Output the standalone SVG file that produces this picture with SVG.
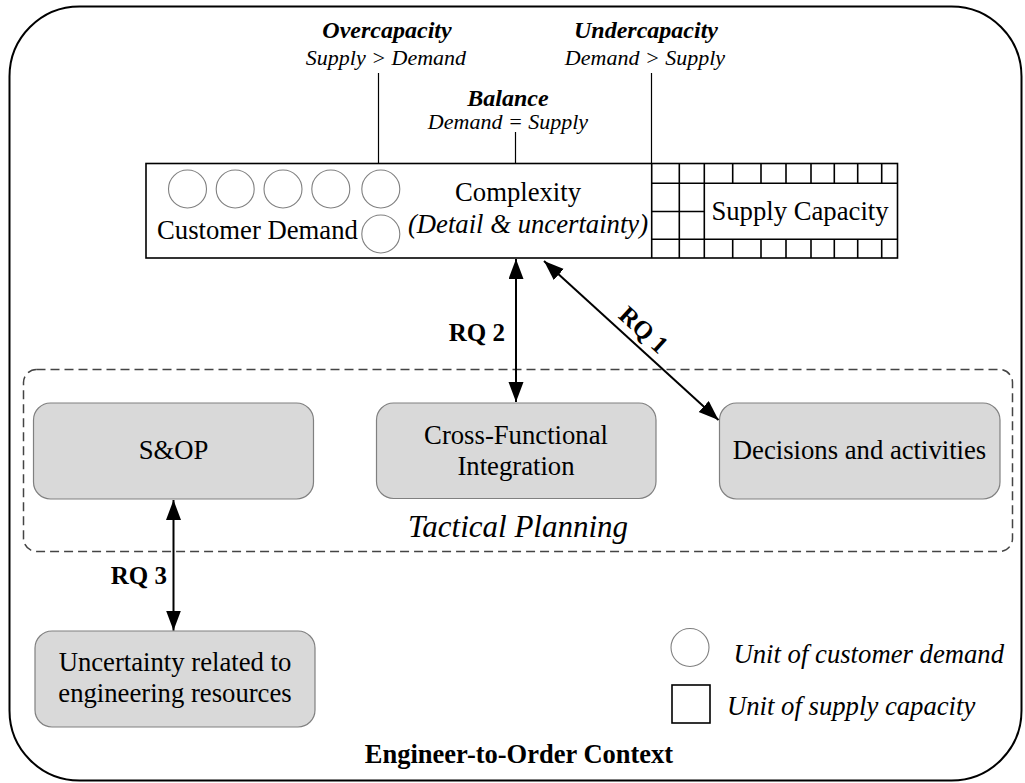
<svg xmlns="http://www.w3.org/2000/svg" width="1025" height="783" viewBox="0 0 1025 783">
<style>
.t{font-family:"Liberation Serif","Times New Roman",serif;fill:#000}
.box{fill:#d9d9d9;stroke:#808080;stroke-width:1.2}
.circ{fill:#fff;stroke:#808080;stroke-width:1.1}
.grid{stroke:#000;stroke-width:1.6;fill:none}
.arr{stroke:#000;stroke-width:2;fill:none;marker-start:url(#ah);marker-end:url(#ah)}
.thin{stroke:#000;stroke-width:1.2}
</style>
<defs>
<marker id="ah" markerUnits="userSpaceOnUse" markerWidth="22" markerHeight="16" refX="20" refY="7.5" orient="auto-start-reverse" viewBox="0 0 22 16">
<path d="M0,0 L20,7.5 L0,15 z" fill="#000"/>
</marker>
</defs>
<rect width="1025" height="783" fill="#fff"/>
<g id="context">
<rect x="9.5" y="6.5" width="1012" height="774" rx="70" ry="70" fill="none" stroke="#000" stroke-width="2"/>
<text class="t" x="519" y="763" font-size="26.5" font-weight="bold" text-anchor="middle">Engineer-to-Order Context</text>
</g>
<g id="labels-top">
<line class="thin" x1="378.5" y1="73" x2="378.5" y2="163"/>
<line class="thin" x1="515.5" y1="132" x2="515.5" y2="163"/>
<line class="thin" x1="651.5" y1="73" x2="651.5" y2="163"/>
<text class="t" x="387" y="38" font-size="24" font-weight="bold" font-style="italic" text-anchor="middle">Overcapacity</text>
<text class="t" x="386" y="65" font-size="22" font-style="italic" text-anchor="middle">Supply &gt; Demand</text>
<text class="t" x="646" y="38" font-size="24" font-weight="bold" font-style="italic" text-anchor="middle">Undercapacity</text>
<text class="t" x="645" y="65" font-size="22" font-style="italic" text-anchor="middle">Demand &gt; Supply</text>
<text class="t" x="508" y="106" font-size="24" font-weight="bold" font-style="italic" text-anchor="middle">Balance</text>
<text class="t" x="508" y="129" font-size="22" font-style="italic" text-anchor="middle">Demand = Supply</text>
</g>
<g id="complexity-bar">
<rect x="146" y="163.5" width="751.5" height="94.5" fill="#fff" stroke="#000" stroke-width="1.6"/>
<circle class="circ" cx="187.5" cy="189" r="19"/>
<circle class="circ" cx="235.2" cy="189" r="19"/>
<circle class="circ" cx="283" cy="189" r="19"/>
<circle class="circ" cx="330.8" cy="189" r="19"/>
<circle class="circ" cx="380.8" cy="189" r="19"/>
<circle class="circ" cx="380.8" cy="234" r="19"/>
<text class="t" x="157" y="239" font-size="26.7">Customer Demand</text>
<text class="t" x="518" y="201" font-size="26.7" text-anchor="middle">Complexity</text>
<text class="t" x="528" y="233" font-size="26.7" font-style="italic" text-anchor="middle">(Detail &amp; uncertainty)</text>
<g class="grid">
<line x1="651.7" y1="183.3" x2="897.5" y2="183.3"/>
<line x1="651.7" y1="239.3" x2="897.5" y2="239.3"/>
<line x1="651.7" y1="211.5" x2="704.3" y2="211.5"/>
<line x1="651.7" y1="163.5" x2="651.7" y2="258"/>
<line x1="679.3" y1="163.5" x2="679.3" y2="258"/>
<line x1="704.3" y1="163.5" x2="704.3" y2="258"/>
<path d="M732.7,163.5V183.3M761,163.5V183.3M786,163.5V183.3M811,163.5V183.3M834.3,163.5V183.3M857.7,163.5V183.3M881.7,163.5V183.3"/>
<path d="M732.7,239.3V258M761,239.3V258M786,239.3V258M811,239.3V258M834.3,239.3V258M857.7,239.3V258M881.7,239.3V258"/>
</g>
<text class="t" x="800" y="220" font-size="26.7" text-anchor="middle">Supply Capacity</text>
</g>
<g id="tactical-planning">
<rect x="23.5" y="369.5" width="989" height="182" rx="13" ry="13" fill="none" stroke="#444" stroke-width="1.5" stroke-dasharray="9,5"/>
<text class="t" x="518" y="537" font-size="31" font-style="italic" text-anchor="middle">Tactical Planning</text>
</g>
<g id="sop">
<rect class="box" x="33.5" y="403" width="280" height="96" rx="17" ry="17"/>
<text class="t" x="173.5" y="459" font-size="26.7" text-anchor="middle">S&amp;OP</text>
</g>
<g id="cfi">
<rect class="box" x="376.5" y="403" width="279.5" height="95.5" rx="17" ry="17"/>
<text class="t" x="516" y="443.5" font-size="26.7" text-anchor="middle">Cross-Functional</text>
<text class="t" x="516" y="475" font-size="26.7" text-anchor="middle">Integration</text>
</g>
<g id="decisions">
<rect class="box" x="719.5" y="403" width="280.5" height="96" rx="17" ry="17"/>
<text class="t" x="859.5" y="459" font-size="26.7" text-anchor="middle">Decisions and activities</text>
</g>
<g id="uncertainty">
<rect class="box" x="35" y="631" width="280" height="96" rx="17" ry="17"/>
<text class="t" x="175" y="671" font-size="26.7" text-anchor="middle">Uncertainty related to</text>
<text class="t" x="175" y="702" font-size="26.7" text-anchor="middle">engineering resources</text>
</g>
<g id="legend">
<circle class="circ" cx="690" cy="647.5" r="19"/>
<text class="t" x="733.5" y="663" font-size="26.7" font-style="italic">Unit of customer demand</text>
<rect x="672" y="685" width="38" height="38" fill="#fff" stroke="#000" stroke-width="1.6"/>
<text class="t" x="727" y="715" font-size="26.7" font-style="italic">Unit of supply capacity</text>
</g>
<g id="connectors">
<line class="arr" x1="516" y1="259" x2="516" y2="402"/>
<line class="arr" x1="544" y1="261" x2="718.5" y2="420"/>
<line class="arr" x1="173.5" y1="500" x2="173.5" y2="630.5"/>
<text class="t" x="505" y="341" font-size="25" font-weight="bold" text-anchor="end">RQ 2</text>
<text class="t" x="0" y="0" font-size="25" font-weight="bold" text-anchor="middle" transform="translate(544,261) rotate(42.37) translate(120,-8)">RQ 1</text>
<text class="t" x="167" y="583.5" font-size="25" font-weight="bold" text-anchor="end">RQ 3</text>
</g>
</svg>
